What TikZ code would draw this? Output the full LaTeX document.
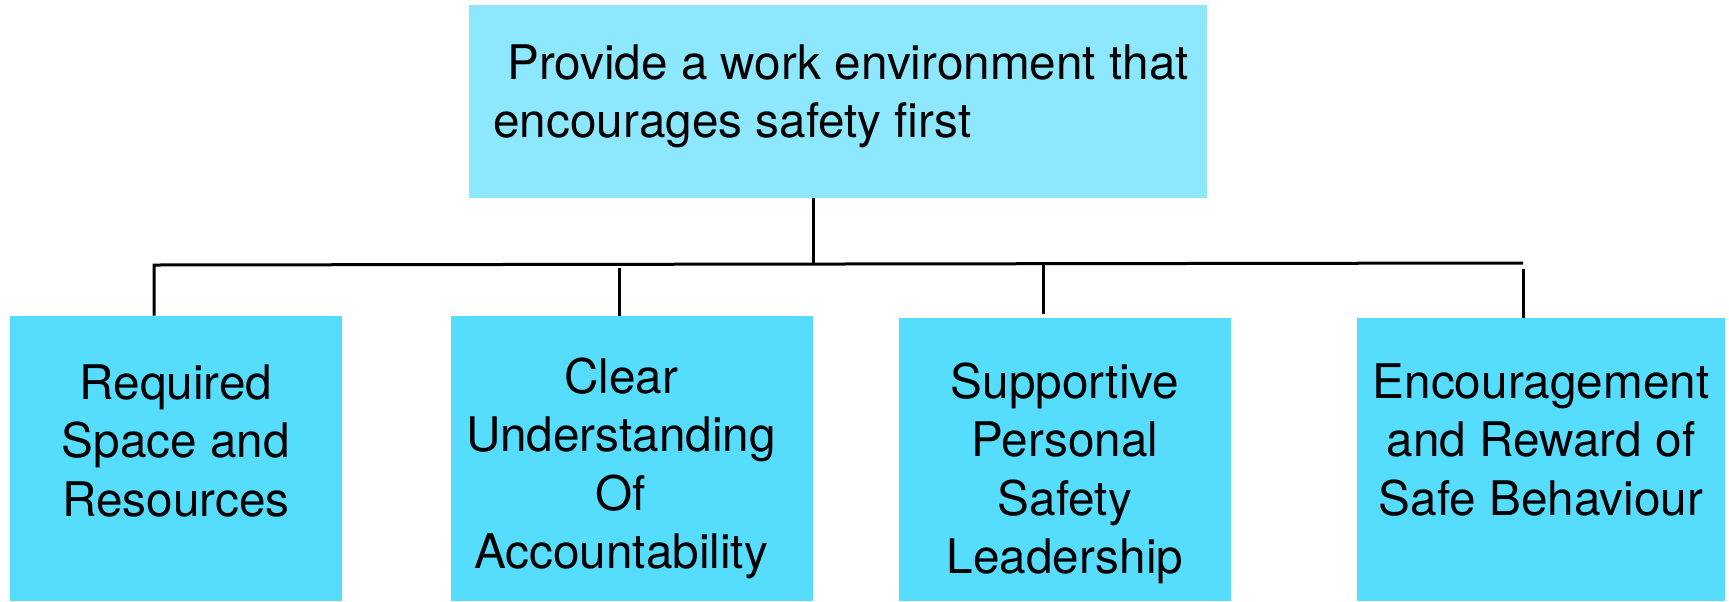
\documentclass[tikz,border=0pt]{standalone}
\usepackage{fontspec}
\setmainfont{TeX Gyre Heros}
\definecolor{headfill}{RGB}{142,232,253}
\definecolor{itemfill}{RGB}{86,221,254}
\begin{document}
\begin{tikzpicture}[x=0.5pt,y=-0.5pt,
  headbox/.style={fill=headfill,draw=none,inner sep=0pt},
  itembox/.style={fill=itemfill,draw=none,inner sep=0pt},
  label text/.style={inner sep=0pt,anchor=north,align=center,
    font=\fontsize{23.85}{29.15}\selectfont},
  wire/.style={line width=1.5pt,black}]
\useasboundingbox (0,0) rectangle (1729,601);
\newcommand{\firstline}{\rule{0pt}{20pt}}

% boxes
\node[headbox,minimum width=369pt,minimum height=96.5pt] (top) at (838,101.5) {};
\node[itembox,minimum width=166pt,minimum height=142.5pt] (b1) at (176,458.5) {};
\node[itembox,minimum width=181pt,minimum height=142.5pt] (b2) at (632,458.5) {};
\node[itembox,minimum width=166pt,minimum height=141.5pt] (b3) at (1065,459.5) {};
\node[itembox,minimum width=184pt,minimum height=141.5pt] (b4) at (1541,459.5) {};

% texts
\node[inner sep=0pt,anchor=north west,align=left,
  font=\fontsize{23.85}{29.15}\selectfont] (toptext) at (493,39)
  {\firstline\hspace*{7pt}Provide a work environment that\\encourages safety first};
\node[label text] (t1) at (176,359) {\firstline Required\\Space and\\Resources};
\node[label text] (t2) at (621,353) {\firstline Clear\\Understanding\\Of\\Accountability};
\node[label text] (t3) at (1065,358) {\firstline Supportive\\Personal\\Safety\\Leadership};
\node[label text] (t4) at (1541,358) {\firstline Encouragement\\and Reward of\\Safe Behaviour};

% connector junctions
\coordinate (bl) at (154,265);
\coordinate (br) at (1523,263);
\coordinate (tj) at (813,264);
\coordinate (d2) at (619,268);
\coordinate (d3) at (1043,264);
\coordinate (d4) at (1523,269);

% connectors
\draw[wire] (top.south -| tj) -- (tj);
\draw[wire] (b1.north -| bl) -- (bl) -- (br);
\draw[wire] (b2.north -| d2) -- (d2);
\draw[wire] ([yshift=2pt]b3.north -| d3) -- (d3);
\draw[wire] (b4.north -| d4) -- (d4);
\end{tikzpicture}
\end{document}
